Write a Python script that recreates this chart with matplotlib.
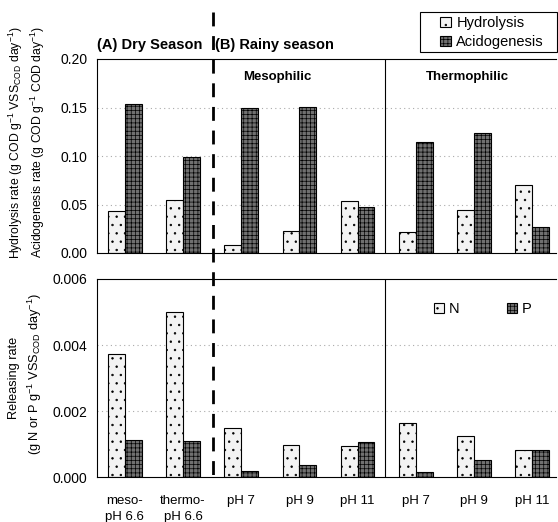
import matplotlib
matplotlib.use("Agg")
import matplotlib.pyplot as plt
from matplotlib.lines import Line2D
from matplotlib.patches import Patch, Rectangle
import numpy as np

plt.rcParams['font.family'] = ['Liberation Sans', 'DejaVu Sans']
plt.rcParams['hatch.linewidth'] = 0.5
plt.rcParams['mathtext.fontset'] = 'custom'
plt.rcParams['mathtext.rm'] = 'Liberation Sans'
plt.rcParams['mathtext.it'] = 'Liberation Sans'

categories = ["meso-\npH 6.6", "thermo-\npH 6.6", "pH 7", "pH 9", "pH 11", "pH 7", "pH 9", "pH 11"]
hydrolysis = [0.0436, 0.0546, 0.008, 0.023, 0.054, 0.022, 0.044, 0.070]
acidogenesis = [0.1536, 0.0993, 0.149, 0.151, 0.047, 0.114, 0.124, 0.027]
nitrogen = [0.00373, 0.0050, 0.0015, 0.00098, 0.00096, 0.00165, 0.00125, 0.00082]
phosphorus = [0.00113, 0.00111, 0.00019, 0.00037, 0.00108, 0.00015, 0.00052, 0.00082]
top_ticks = [0.00, 0.05, 0.10, 0.15, 0.20]
bot_ticks = [0.000, 0.002, 0.004, 0.006]

W, H = 558, 522
fig = plt.figure(figsize=(W / 100, H / 100), dpi=100)

def fx(px):
    return px / W

def fy(py):
    return 1 - py / H

left, right = 97, 556
ax1 = fig.add_axes([fx(left), fy(253), fx(right - left), fy(59) - fy(253)])
ax2 = fig.add_axes([fx(left), fy(477.3), fx(right - left), fy(279) - fy(477.3)])

x = np.arange(len(categories))
bw = 0.29
light_kw = dict(facecolor='#f3f3f3', edgecolor='black', hatch='..', linewidth=0.8)
dark_kw = dict(facecolor='#707070', edgecolor='black', hatch='++++', linewidth=0.8)

def style(ax, ticks, fmt):
    ax.set_xlim(-0.48, 7.41)
    ax.set_ylim(ticks[0], ticks[-1])
    ax.set_yticks(ticks)
    ax.set_yticklabels([fmt.format(t) for t in ticks], fontsize=10)
    for t in ticks[1:-1]:
        ax.axhline(t, color='#aaaaaa', linestyle=(0, (1, 3)), linewidth=0.8, zorder=0)
    ax.spines['right'].set_visible(False)
    ax.tick_params(axis='y', length=0, pad=7)
    ax.tick_params(axis='x', length=0)
    ax.axvline(4.47, color='black', linewidth=0.8)

ax1.bar(x - bw / 2, hydrolysis, bw, **light_kw)
ax1.bar(x + bw / 2, acidogenesis, bw, **dark_kw)
style(ax1, top_ticks, "{:.2f}")
ax1.set_xticks([])

ax2.bar(x - bw / 2, nitrogen, bw, **light_kw)
ax2.bar(x + bw / 2, phosphorus, bw, **dark_kw)
style(ax2, bot_ticks, "{:.3f}")
ax2.set_xticks(x)
ax2.set_xticklabels(categories, fontsize=9.5, linespacing=1.45)
ax2.tick_params(axis='x', pad=13)

# dashed divider across both panels
fig.add_artist(Line2D([fx(212.5), fx(212.5)], [fy(12), fy(478)], color='black',
                      linestyle=(0, (5, 3.5)), linewidth=2))

# section headers
fig.text(fx(97), fy(45), "(A) Dry Season", fontsize=10.5, fontweight='bold', va='center')
fig.text(fx(215), fy(45), "(B) Rainy season", fontsize=10.5, fontweight='bold', va='center')
ax1.text(2.62, 0.1814, "Mesophilic", fontsize=9.5, fontweight='bold', ha='center', va='center')
ax1.text(5.88, 0.1814, "Thermophilic", fontsize=9.5, fontweight='bold', ha='center', va='center')

# y labels
fig.text(fx(16), fy(143), "Hydrolysis rate (g COD g$^{-1}$ VSS$_{\\mathregular{COD}}$ day$^{-1}$)",
         rotation=90, fontsize=8.8, ha='center', va='center')
fig.text(fx(38), fy(142), "Acidogenesis rate (g COD g$^{-1}$ COD day$^{-1}$)",
         rotation=90, fontsize=8.8, ha='center', va='center')
fig.text(fx(14), fy(378), "Releasing rate", rotation=90, fontsize=9.2, ha='center', va='center')
fig.text(fx(35), fy(374), "(g N or P g$^{-1}$ VSS$_{\\mathregular{COD}}$ day$^{-1}$)",
         rotation=90, fontsize=9.2, ha='center', va='center')

# legends
h1 = [Patch(**light_kw), Patch(**dark_kw)]
fig.add_artist(Rectangle((fx(420), fy(52)), fx(557) - fx(420), fy(12) - fy(52),
                         transform=fig.transFigure, facecolor='white', edgecolor='black',
                         linewidth=0.8))
leg1 = fig.legend(h1, ["Hydrolysis", "Acidogenesis"], loc='upper left',
                  bbox_to_anchor=(fx(436), fy(12)), fontsize=10.5, frameon=False,
                  handlelength=0.7, handleheight=0.7,
                  handletextpad=0.4, borderpad=0.3, labelspacing=0.3, borderaxespad=0)
leg2 = ax2.legend(h1, ["N", "P"], loc='center', bbox_to_anchor=(0.84, 0.85),
                  ncol=2, fontsize=10.5, frameon=False, handlelength=0.7, handleheight=0.7,
                  handletextpad=0.3, columnspacing=3.3)

fig.savefig("out.png", dpi=100)
